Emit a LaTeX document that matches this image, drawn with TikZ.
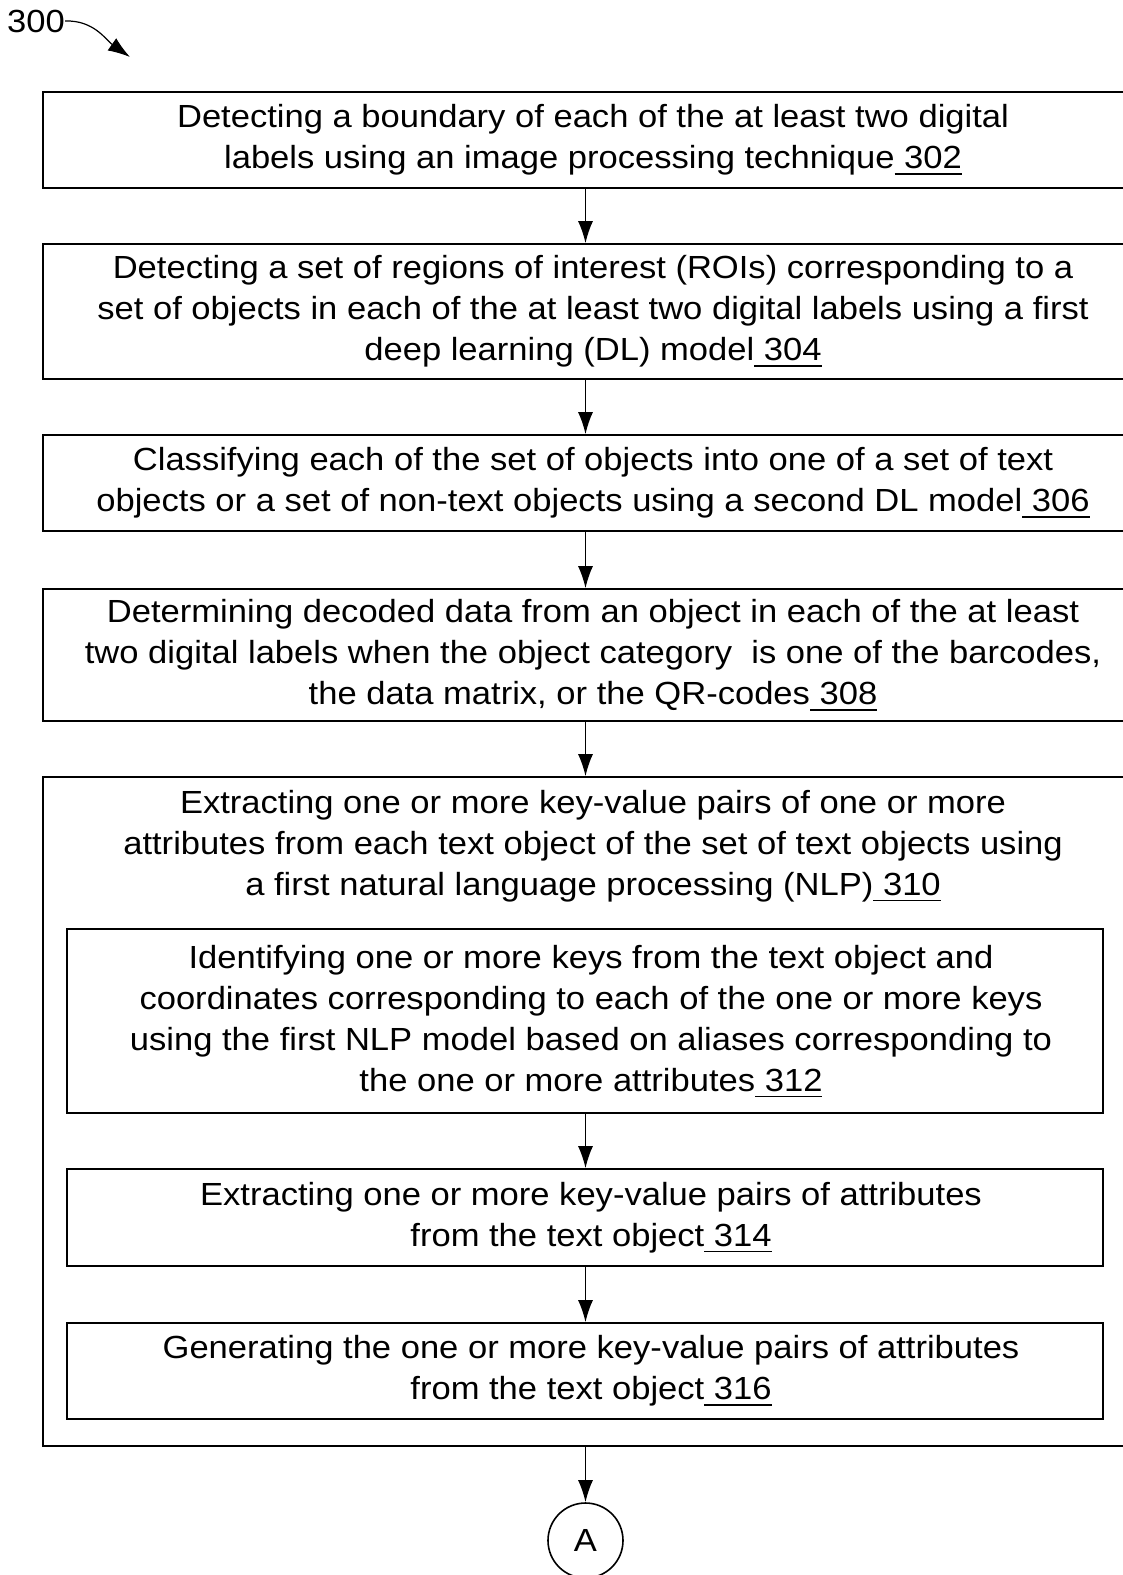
\documentclass[tikz,border=0pt]{standalone}
\usepackage{fontspec}
\setmainfont[FakeStretch=1.08]{Liberation Sans}
\usetikzlibrary{arrows.meta}
% reference numerals: underlined, the rule starting under the preceding space
\newcommand\refnum[1]{\setbox0\hbox{\ #1}\rlap{\rule[-6pt]{\wd0}{1.6pt}}\box0}
\begin{document}
\begin{tikzpicture}[x=1pt,y=-1pt,
  every node/.style={font=\fontsize{32}{41}\selectfont},
  stepbox/.style={draw,line width=1.6pt,align=center,inner sep=0pt},
  steptext/.style={align=center,inner sep=0pt},
  flow/.style={line width=1.6pt,-{Latex[length=22pt,width=15pt]}}]
\clip (0,0) rectangle (1123,1575);
\fill[white] (0,0) rectangle (1123,1575);

% figure label
\node[anchor=west,inner sep=0pt] (lbl) at (7,21) {300};
\coordinate (lbltip) at (130,57);
\draw[line width=1.2pt,-{Latex[length=22pt,width=15pt]}] (lbl.east) to[out=2,in=145] (lbltip);

% main steps (boxes run past the right edge)
\node[stepbox,minimum width=1100pt,minimum height=96pt] (s302) at (593,140)
  {Detecting a boundary of each of the at least two digital\\
   labels using an image processing technique\refnum{302}};
\node[stepbox,minimum width=1100pt,minimum height=135pt] (s304) at (593,311.5)
  {Detecting a set of regions of interest (ROIs) corresponding to a\\
   set of objects in each of the at least two digital labels using a first\\
   deep learning (DL) model\refnum{304}};
\node[stepbox,minimum width=1100pt,minimum height=96pt] (s306) at (593,483)
  {Classifying each of the set of objects into one of a set of text\\
   objects or a set of non-text objects using a second DL model\refnum{306}};
\node[stepbox,minimum width=1100pt,minimum height=132pt] (s308) at (593,655)
  {Determining decoded data from an object in each of the at least\\
   two digital labels when the object category\ \ is one of the barcodes,\\
   the data matrix, or the QR-codes\refnum{308}};

% step 310 with its sub-steps
\node[draw,line width=1.6pt,minimum width=1100pt,minimum height=669pt,inner sep=0pt] (s310) at (593,1111.5) {};
\node[steptext] (t310) at (593,846)
  {Extracting one or more key-value pairs of one or more\\
   attributes from each text object of the set of text objects using\\
   a first natural language processing (NLP)\refnum{310}};

\node[stepbox,minimum width=1036pt,minimum height=184pt] (s312) at (585,1021) {};
\node[steptext] (t312) at (591,1021)
  {Identifying one or more keys from the text object and\\
   coordinates corresponding to each of the one or more keys\\
   using the first NLP model based on aliases corresponding to\\
   the one or more attributes\refnum{312}};
\node[stepbox,minimum width=1036pt,minimum height=97pt] (s314) at (585,1217.5) {};
\node[steptext] (t314) at (591,1217.5)
  {Extracting one or more key-value pairs of attributes\\
   from the text object\refnum{314}};
\node[stepbox,minimum width=1036pt,minimum height=96pt] (s316) at (585,1371) {};
\node[steptext] (t316) at (591,1371)
  {Generating the one or more key-value pairs of attributes\\
   from the text object\refnum{316}};

% off-page connector
\node[draw,circle,line width=1.6pt,minimum size=75pt,inner sep=0pt] (A) at (585.5,1540.5) {A};

% connectors
\draw[flow] (s302.south -| A) -- (s304.north -| A);
\draw[flow] (s304.south -| A) -- (s306.north -| A);
\draw[flow] (s306.south -| A) -- (s308.north -| A);
\draw[flow] (s308.south -| A) -- (s310.north -| A);
\draw[flow] (s312.south -| A) -- (s314.north -| A);
\draw[flow] (s314.south -| A) -- (s316.north -| A);
\draw[flow] (s310.south -| A) -- (A.north);
\end{tikzpicture}
\end{document}
